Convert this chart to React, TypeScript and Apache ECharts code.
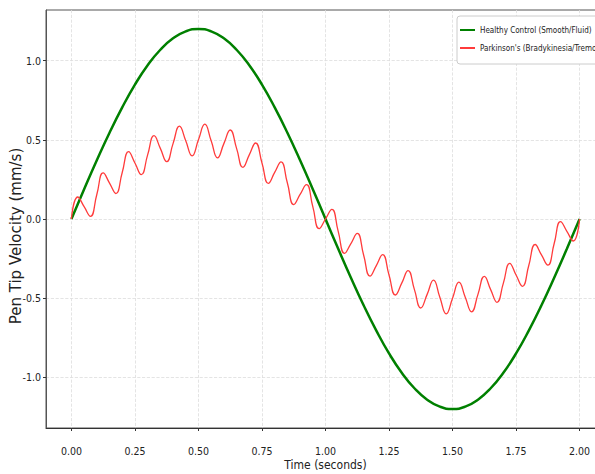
import React, { useEffect, useRef } from "react";
import * as echarts from "echarts";

const timeHealthy = [
  0, 0.05, 0.1, 0.15, 0.2, 0.25, 0.3, 0.35, 0.4, 0.45, 0.5, 0.55, 0.6, 0.65, 0.7, 0.75, 0.8, 0.85, 0.9, 0.95,
  1.0, 1.05, 1.1, 1.15, 1.2, 1.25, 1.3, 1.35, 1.4, 1.45, 1.5, 1.55, 1.6, 1.65, 1.7, 1.75, 1.8, 1.85, 1.9, 1.95, 2.0,
];
const healthyVelocity = [
  0, 0.188, 0.371, 0.545, 0.705, 0.849, 0.971, 1.069, 1.141, 1.185, 1.2, 1.185, 1.141, 1.069, 0.971, 0.849, 0.705,
  0.545, 0.371, 0.188, 0, -0.188, -0.371, -0.545, -0.705, -0.849, -0.971, -1.069, -1.141, -1.185, -1.2, -1.185,
  -1.141, -1.069, -0.971, -0.849, -0.705, -0.545, -0.371, -0.188, 0,
];

const timeParkinson = [
  0, 0.025, 0.05, 0.075, 0.1, 0.125, 0.15, 0.175, 0.2, 0.225, 0.25, 0.275, 0.3, 0.325, 0.35, 0.375, 0.4, 0.425,
  0.45, 0.475, 0.5, 0.525, 0.55, 0.575, 0.6, 0.625, 0.65, 0.675, 0.7, 0.725, 0.75, 0.775, 0.8, 0.825, 0.85, 0.875,
  0.9, 0.925, 0.95, 0.975, 1.0, 1.025, 1.05, 1.075, 1.1, 1.125, 1.15, 1.175, 1.2, 1.225, 1.25, 1.275, 1.3, 1.325,
  1.35, 1.375, 1.4, 1.425, 1.45, 1.475, 1.5, 1.525, 1.55, 1.575, 1.6, 1.625, 1.65, 1.675, 1.7, 1.725, 1.75, 1.775,
  1.8, 1.825, 1.85, 1.875, 1.9, 1.925, 1.95, 1.975, 2.0,
];
const parkinsonVelocity = [
  0, 0.139, 0.078, 0.017, 0.155, 0.291, 0.227, 0.161, 0.294, 0.425, 0.354, 0.28, 0.405, 0.526, 0.446, 0.362, 0.476,
  0.586, 0.494, 0.399, 0.5, 0.599, 0.494, 0.386, 0.476, 0.562, 0.446, 0.326, 0.405, 0.48, 0.354, 0.225, 0.294,
  0.361, 0.227, 0.091, 0.155, 0.217, 0.078, -0.061, 0, 0.061, -0.078, -0.217, -0.155, -0.091, -0.227, -0.361,
  -0.294, -0.225, -0.354, -0.48, -0.405, -0.326, -0.446, -0.562, -0.476, -0.386, -0.494, -0.599, -0.5, -0.399,
  -0.494, -0.586, -0.476, -0.362, -0.446, -0.526, -0.405, -0.28, -0.354, -0.425, -0.294, -0.161, -0.227, -0.291,
  -0.155, -0.017, -0.078, -0.139, 0,
];

const xTicks = [0, 0.25, 0.5, 0.75, 1.0, 1.25, 1.5, 1.75, 2.0];
const yTicks = [-1.0, -0.5, 0.0, 0.5, 1.0];

const seriesNames = ["Healthy Control (Smooth/Fluid)", "Parkinson's (Bradykinesia/Tremor)"];

const NARROW = "'DejaVu Sans Condensed', 'Liberation Sans', sans-serif";

export default function App() {
  const ref = useRef<HTMLDivElement>(null);
  useEffect(() => {
    if (!ref.current) return;
    const chart = echarts.init(ref.current, null, { renderer: "svg" });
    const healthy = timeHealthy.map((t, i) => [t, healthyVelocity[i]]);
    const pd = timeParkinson.map((t, i) => [t, parkinsonVelocity[i]]);
    chart.setOption({
      animation: false,
      backgroundColor: "#ffffff",
      grid: {
        left: 46,
        right: -10,
        top: 10,
        bottom: 46,
        containLabel: false,
        outerBoundsMode: "none",
        show: true,
        borderColor: "#555",
        borderWidth: 1,
        backgroundColor: "transparent",
      },
      legend: {
        orient: "vertical",
        left: 457,
        top: 16,
        padding: [10, 6, 12, 3],
        itemGap: 10,
        itemWidth: 15,
        itemHeight: 2,
        icon: "rect",
        backgroundColor: "#fff",
        borderColor: "#cccccc",
        borderWidth: 1,
        borderRadius: 3,
        textStyle: { fontFamily: NARROW, fontSize: 8, color: "#222" },
        data: seriesNames,
      },
      xAxis: {
        type: "value",
        min: -0.1,
        max: 2.1,
        name: "Time (seconds)",
        nameLocation: "middle",
        nameGap: 31,
        nameMoveOverlap: false,
        nameTextStyle: { fontFamily: NARROW, fontSize: 12, color: "#222" },
        axisLine: { show: true, onZero: false, lineStyle: { color: "#333", width: 1 } },
        axisTick: { show: true, length: 3, customValues: xTicks, lineStyle: { color: "#333" } },
        axisLabel: {
          customValues: xTicks,
          margin: 17,
          fontFamily: NARROW,
          fontSize: 10.5,
          color: "#222",
          formatter: (v: number) => v.toFixed(2),
        },
        splitLine: { show: true, lineStyle: { color: "#dddddd", type: "dashed", width: 0.8 } },
      },
      yAxis: {
        type: "value",
        min: -1.32,
        max: 1.32,
        name: "Pen Tip Velocity (mm/s)",
        nameLocation: "middle",
        nameRotate: 90,
        nameGap: 23,
        nameMoveOverlap: false,
        nameTextStyle: {
          fontFamily: "'DejaVu Sans', sans-serif",
          fontSize: 15,
          color: "#222",
          padding: [0, 34, 0, 0],
        },
        axisLine: { show: true, onZero: false, lineStyle: { color: "#555", width: 1 } },
        axisTick: { show: true, length: 3, customValues: yTicks, lineStyle: { color: "#333" } },
        axisLabel: {
          customValues: yTicks,
          margin: 5,
          fontFamily: NARROW,
          fontSize: 10.5,
          color: "#222",
          formatter: (v: number) => v.toFixed(1),
        },
        splitLine: { show: true, lineStyle: { color: "#dddddd", type: "dashed", width: 0.8 } },
      },
      series: [
        {
          name: seriesNames[0],
          type: "line",
          data: healthy,
          smooth: true,
          symbol: "none",
          lineStyle: { color: "#008000", width: 2.5 },
          itemStyle: { color: "#008000" },
          z: 3,
        },
        {
          name: seriesNames[1],
          type: "line",
          data: pd,
          smooth: 0.5,
          symbol: "none",
          lineStyle: { color: "#ff3b3b", width: 1.3 },
          itemStyle: { color: "#ff3b3b" },
          z: 4,
        },
      ],
    });
    return () => chart.dispose();
  }, []);
  return (
    <div
      ref={ref}
      style={{ position: "fixed", left: 0, top: 0, width: 595, height: 474, overflow: "hidden" }}
    />
  );
}
